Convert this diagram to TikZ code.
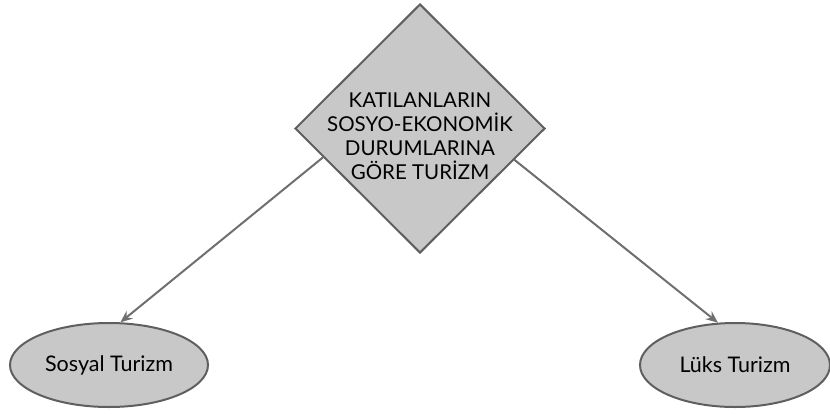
\documentclass[tikz,border=0pt]{standalone}
\usepackage{xcolor}
\usepackage{fontspec}
\setmainfont{Lato}
\usepackage{tikz}
\usetikzlibrary{calc}
\usetikzlibrary{arrows.meta}
\usetikzlibrary{shapes.geometric}
\definecolor{dolgu}{RGB}{200,200,200}
\definecolor{cizgi}{RGB}{95,95,95}
\tikzset{
  ana/.style={diamond, draw=cizgi, fill=dolgu, line width=2pt, minimum width=250pt, minimum height=249pt, inner sep=0pt},
  anayazi/.style={align=center, font=\fontsize{20.5}{24}\selectfont, inner sep=0pt},
  tur/.style={ellipse, draw=cizgi, fill=dolgu, line width=2pt, minimum height=84pt, inner sep=0pt, font=\fontsize{21.5}{24}\selectfont},
  ok/.style={draw=cizgi!90, line width=2pt, -{Stealth[length=12pt, width=10pt, inset=4pt]}}
}

\begin{document}
\begin{tikzpicture}[x=1pt, y=-1pt]
\useasboundingbox (0,0) rectangle (830,413);
\node[ana] (dia) at (420,128.5) {};
\node[anayazi] (diayazi) at (420,136) {KATILANLARIN\\SOSYO-EKONOMİK\\DURUMLARINA\\GÖRE TURİZM};
\node[tur, minimum width=198pt] (sosyal) at (109,365) {Sosyal Turizm};
\node[tur, minimum width=190pt] (luks) at (735,365) {Lüks Turizm};
\draw[ok] ($(dia.west)!0.23!(dia.south)$) -- (sosyal.75);
\draw[ok] ($(dia.east)!0.25!(dia.south)$) -- (luks.112);
\end{tikzpicture}
\end{document}
